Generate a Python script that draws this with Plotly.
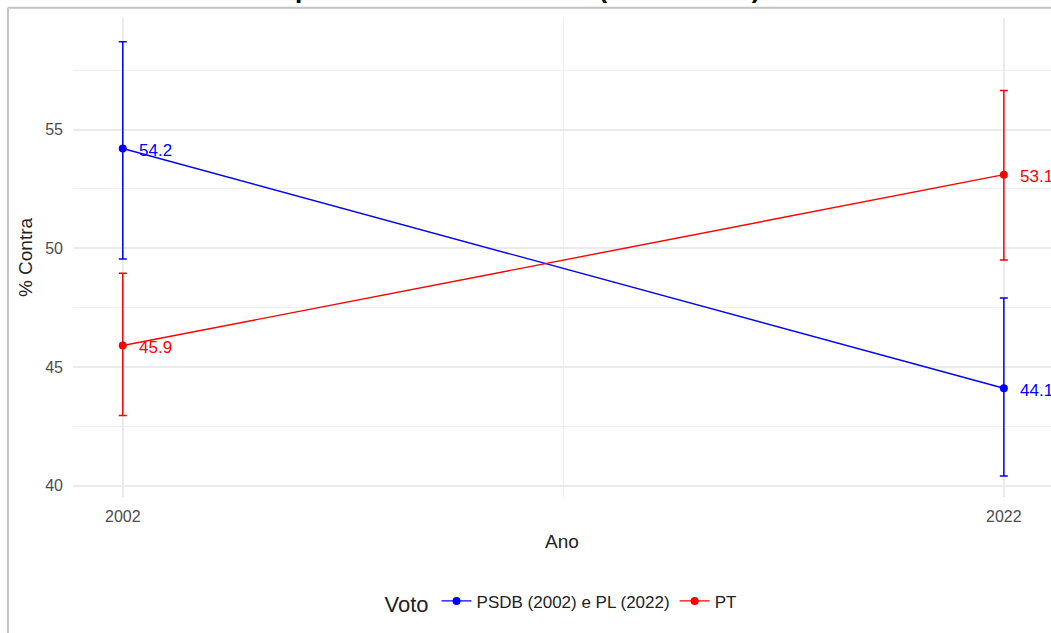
import plotly.graph_objects as go

YEARS = [2002, 2022]

SERIES = ["PSDB (2002) e PL (2022)", "PT"]
COLORS = ["#0000FF", "#FF0000"]
VALUES = [[54.2, 44.1], [45.9, 53.1]]
CI_LOW = [[49.55, 40.4], [42.95, 49.5]]
CI_HIGH = [[58.7, 47.9], [48.95, 56.65]]
LABELS = [["54.2", "44.1"], ["45.9", "53.1"]]

Y_TICKS = [40, 45, 50, 55]
X_TICKS = [2002, 2022]
X_MINOR = [2012]

TITLE = "Voto contra o candidato a<br>presidente em exercício (2002 e 2022)"

FONT = "Liberation Sans, Arial, sans-serif"

fig = go.Figure()

for name, color, vals, lo, hi, labs in zip(SERIES, COLORS, VALUES, CI_LOW, CI_HIGH, LABELS):
    fig.add_trace(
        go.Scatter(
            x=YEARS,
            y=vals,
            name=name,
            mode="lines+markers",
            line=dict(color=color, width=1.4),
            marker=dict(color=color, size=8),
            error_y=dict(
                type="data",
                symmetric=False,
                array=[h - v for h, v in zip(hi, vals)],
                arrayminus=[v - l for v, l in zip(vals, lo)],
                color=color,
                thickness=1.5,
                width=4,
            ),
            cliponaxis=False,
        )
    )
    for x, y, t in zip(YEARS, vals, labs):
        fig.add_annotation(
            x=x,
            y=y,
            text=t,
            showarrow=False,
            xanchor="left",
            yanchor="middle",
            xshift=14,
            yshift=-2,
            font=dict(color=color, size=17, family=FONT),
        )

fig.add_annotation(
    xref="paper",
    yref="paper",
    x=0.465,
    y=1.0255,
    xanchor="center",
    yanchor="bottom",
    align="center",
    text=f"<b>{TITLE}</b>",
    showarrow=False,
    font=dict(size=26, color="black", family=FONT),
)

# moldura cinza da captura
fig.add_shape(type="line", xref="paper", yref="paper", x0=-0.0665, x1=-0.0665,
              y0=1.0215, y1=-0.3, line=dict(color="#c3c3c3", width=2))
fig.add_shape(type="line", xref="paper", yref="paper", x0=-0.0665, x1=1.0,
              y0=1.0215, y1=1.0215, line=dict(color="#c3c3c3", width=2))

fig.update_layout(
    width=1051,
    height=633,
    template="plotly_white",
    paper_bgcolor="white",
    plot_bgcolor="white",
    margin=dict(l=73, r=0, t=18, b=136),
    font=dict(family=FONT, color="#222222"),
    showlegend=True,
    legend=dict(
        orientation="h",
        x=0.5,
        xanchor="center",
        y=-0.221,
        yanchor="middle",
        title=dict(text="Voto", side="left", font=dict(size=22, color="#222222")),
        font=dict(size=17, color="#222222"),
        itemwidth=30,
    ),
    xaxis=dict(
        range=[2000.87, 2023.07],
        tickvals=X_TICKS,
        ticktext=[str(v) for v in X_TICKS],
        showgrid=True,
        gridcolor="#EBEBEB",
        gridwidth=1.5,
        minor=dict(tickvals=X_MINOR, showgrid=True, gridcolor="#EFEFEF", gridwidth=1),
        zeroline=False,
        showline=False,
        ticks="",
        tickfont=dict(size=16, color="#4D4D4D"),
        ticklabelstandoff=8,
        title=dict(text="Ano", font=dict(size=19, color="#222222"), standoff=10),
    ),
    yaxis=dict(
        range=[39.52, 59.7],
        tickvals=Y_TICKS,
        showgrid=True,
        gridcolor="#EBEBEB",
        gridwidth=1.5,
        minor=dict(dtick=2.5, showgrid=True, gridcolor="#EFEFEF", gridwidth=1),
        zeroline=False,
        showline=False,
        ticks="",
        tickfont=dict(size=16, color="#4D4D4D"),
        ticklabelstandoff=9,
        title=dict(text="% Contra", font=dict(size=19, color="#222222"), standoff=7),
    ),
)

fig.write_html(
    "out.html",
    config={"displayModeBar": False},
    post_script="document.body.style.margin='0';",
)
